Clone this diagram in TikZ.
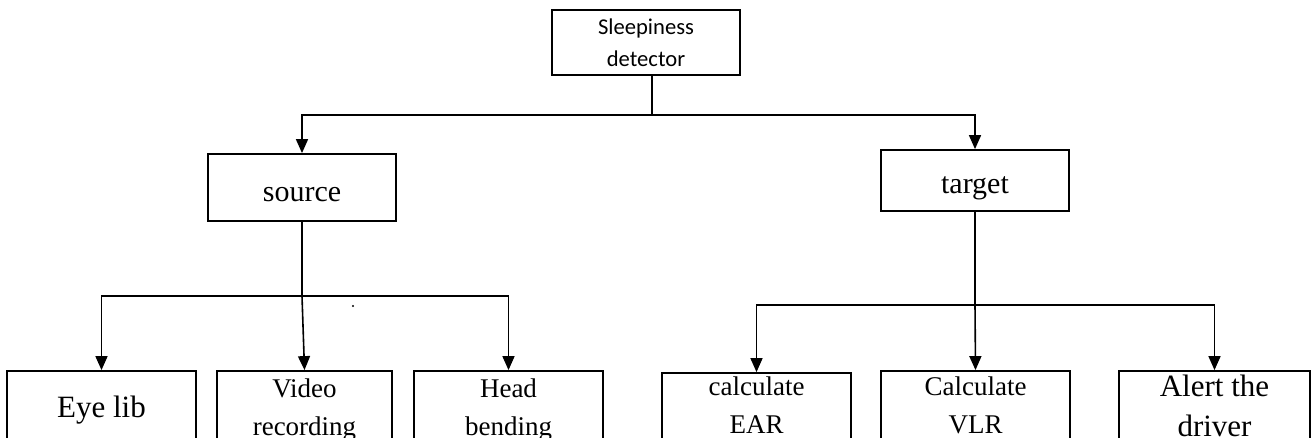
\documentclass[tikz,border=0pt]{standalone}
\usepackage{fontspec}
\setmainfont{Liberation Serif}
\newfontfamily\calibri{Carlito}
\usetikzlibrary{arrows.meta}
\newcommand\liftup[2]{\raisebox{#1}[\height][\depth]{#2}}
\tikzset{
  box/.style={draw, line width=1.8pt, align=center, inner sep=0pt, font=\fontsize{30}{38}\selectfont},
  leaf/.style={box, minimum height=78pt, font=\fontsize{27}{38}\selectfont},
  arr/.style={-{Triangle[length=14pt,width=12pt]}},
}
\begin{document}
\begin{tikzpicture}[x=1pt,y=-1pt,line width=1.6pt]
	\useasboundingbox (0,0) rectangle (1311,437);
	\clip (0,0) rectangle (1311,437);
	\node[box, minimum width=188pt, minimum height=65pt, font=\calibri\fontsize{22.6}{32}\selectfont] (det) at (646,42.5) {Sleepiness\\detector};
	\node[box, minimum width=188pt, minimum height=67pt, text height=28pt, text depth=0pt] (source) at (302,187.5) {source};
	\node[box, minimum width=188pt, minimum height=61pt, text height=25pt, text depth=0pt] (target) at (975,180.5) {target};
	\node[leaf, minimum width=189pt, font=\fontsize{31}{38}\selectfont] (eye) at (101.5,410) {Eye lib};
	\node[leaf, minimum width=175pt] (video) at (304.5,410) {Video\\recording};
	\node[leaf, minimum width=189pt] (head) at (508.5,410) {Head\\bending};
	\node[leaf, minimum width=189pt] (ear) at (756.5,412) {\liftup{7pt}{calculate}\\\liftup{7pt}{EAR}};
	\node[leaf, minimum width=189pt] (vlr) at (975.5,410) {\liftup{5pt}{Calculate}\\\liftup{5pt}{VLR}};
	\node[leaf, minimum width=191pt, font=\fontsize{31}{38}\selectfont] (alert) at (1214.5,410) {\liftup{5pt}{Alert the}\\\liftup{3pt}{driver}};
	\coordinate (j0) at (652,115);
	\coordinate (j1) at (302,296);
	\coordinate (j2) at (975,305);
	\draw (det.south -| j0) -- (j0);
	\draw[arr] (j0) -| (source.north);
	\draw[arr] (j0) -| (target.north);
	\draw (source.south) -- (j1);
	\draw[arr] (j1) -| (eye.north);
	\draw[arr] (j1) -- (video.north);
	\draw[arr] (j1) -| (head.north);
	\draw (target.south) -- (j2);
	\draw[arr] (j2) -| (ear.north);
	\draw[arr] (j2) -- (vlr.north);
	\draw[arr] (j2) -| (alert.north);
	\fill (353,306) circle(1.2pt);
\end{tikzpicture}
\end{document}
